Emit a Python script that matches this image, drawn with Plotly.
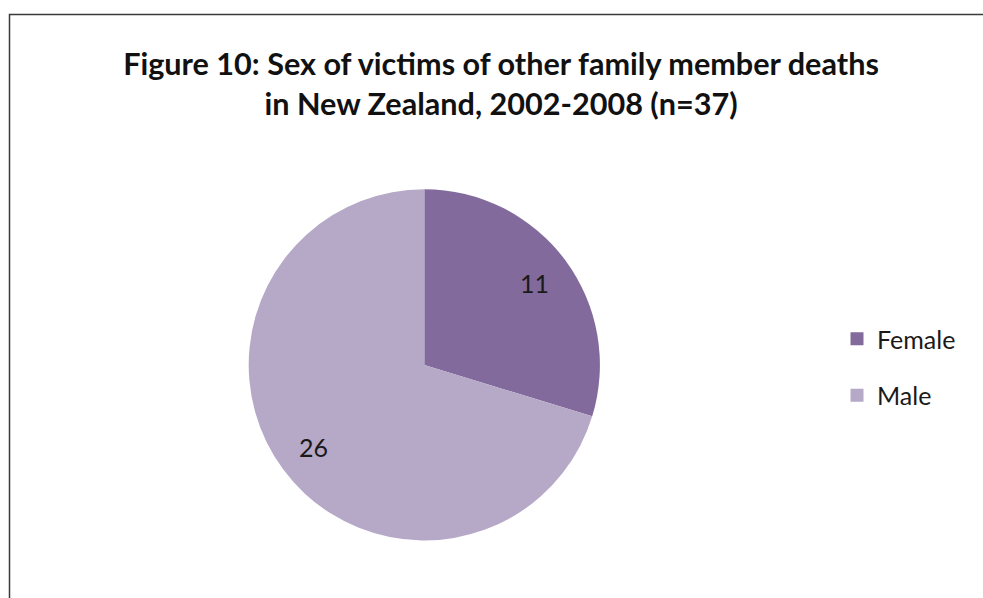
import math
import plotly.graph_objects as go

# Data
sexes = ["Female", "Male"]
deaths = [11, 26]
slice_colors = ["#826B9C", "#B6A8C7"]

title_lines = [
    "Figure 10: Sex of victims of other family member deaths",
    "in New Zealand, 2002-2008 (n=37)",
]

W, H = 983, 598


def px_x(v):
    return v / W


def px_y(v):
    return 1 - v / H


# Pie placement (pixels)
pie_left, pie_right = 248.3, 600.3
pie_top, pie_bottom = 189.3, 540.5
cx = (pie_left + pie_right) / 2
cy = (pie_top + pie_bottom) / 2
radius = (pie_right - pie_left) / 2
label_frac = 0.78

fig = go.Figure()
fig.add_trace(
    go.Pie(
        labels=sexes,
        values=deaths,
        sort=False,
        direction="clockwise",
        rotation=0,
        marker=dict(colors=slice_colors, line=dict(width=0)),
        textinfo="none",
        showlegend=False,
        domain=dict(x=[px_x(pie_left), px_x(pie_right)], y=[px_y(pie_bottom), px_y(pie_top)]),
        hoverinfo="label+value",
    )
)

# Legend entries, one group per sex so the spacing can be set
for s, c in zip(sexes, slice_colors):
    fig.add_trace(
        go.Scatter(
            x=[None],
            y=[None],
            mode="markers",
            name=s,
            legendgroup=s,
            marker=dict(symbol="square", size=13, color=c),
            showlegend=True,
            hoverinfo="skip",
        )
    )

# Value labels placed at each slice's mid-angle (clockwise from 12 o'clock)
total = sum(deaths)
annotations = []
cum = 0
for v in deaths:
    mid = (cum + v / 2) / total * 2 * math.pi
    cum += v
    lx = cx + label_frac * radius * math.sin(mid)
    ly = cy - label_frac * radius * math.cos(mid)
    annotations.append(
        dict(
            x=px_x(lx),
            y=px_y(ly),
            xref="paper",
            yref="paper",
            text=str(v),
            showarrow=False,
            xanchor="center",
            yanchor="middle",
            font=dict(family="Lato", size=25, color="#1a1a1a"),
        )
    )

fig.update_layout(
    width=W,
    height=H,
    margin=dict(l=0, r=0, t=0, b=0),
    paper_bgcolor="white",
    plot_bgcolor="white",
    font=dict(family="Lato", color="#1a1a1a"),
    xaxis=dict(visible=False),
    yaxis=dict(visible=False),
    title=dict(
        text="<br>".join(title_lines),
        x=px_x(501),
        xanchor="center",
        y=px_y(75),
        yanchor="top",
        font=dict(family="Lato", size=30.6, color="#111111", weight="bold"),
    ),
    legend=dict(
        x=px_x(837),
        xanchor="left",
        y=px_y(316),
        yanchor="top",
        itemsizing="trace",
        tracegroupgap=21,
        font=dict(family="Lato", size=25, color="#1a1a1a"),
        bgcolor="rgba(0,0,0,0)",
    ),
    annotations=annotations,
    shapes=[
        dict(
            type="rect",
            xref="paper",
            yref="paper",
            x0=px_x(9.5),
            y0=px_y(14.5),
            x1=px_x(W + 20),
            y1=px_y(H + 20),
            line=dict(color="#3a3a3a", width=1.5),
            fillcolor="rgba(0,0,0,0)",
            layer="above",
        )
    ],
)

fig.write_html("out.html")
